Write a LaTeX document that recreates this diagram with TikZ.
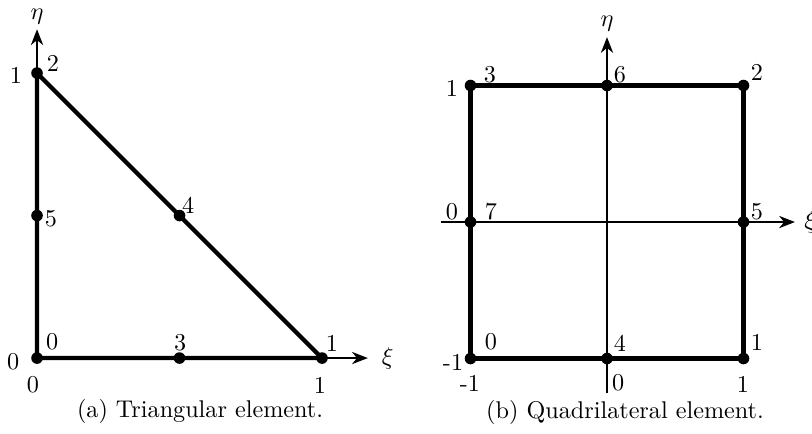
\documentclass[tikz,border=0pt]{standalone}
\usepackage{amsmath, amssymb}
\usepackage{tikz}
\usetikzlibrary{calc, positioning, arrows.meta}

\begin{document}
\begin{tikzpicture}[scale=0.959,
    edge/.style={line width=1.8pt},
    axis/.style={line width=1pt, -{Stealth[length=6.5pt, width=5pt, inset=2pt]}},
    dot/.style={circle, fill, inner sep=0pt, minimum size=4.8pt},
    lbl/.style={inner sep=0pt}]
  \useasboundingbox (0,0) rectangle (12.303,6.561);

  % (a) triangular element
  \begin{scope}[shift={(0.561,1.136)}, scale=4.318]
    \node[dot] (t0) at (0,0) {};
    \node[dot] (t1) at (1,0) {};
    \node[dot] (t2) at (0,1) {};
    \node[dot] (t3) at (0.5,0) {};
    \node[dot] (t4) at (0.5,0.5) {};
    \node[dot] (t5) at (0,0.5) {};
    \coordinate (txi) at (1.161,0);
    \coordinate (teta) at (0,1.154);

    \draw[axis] (t0.center) -- (txi) node[right=2pt] {$\xi$};
    \draw[axis] (t0.center) -- (teta) node[above, inner sep=1.5pt] {$\eta$};
    \draw[edge] (t0.center) -- (t1.center) -- (t2.center) -- cycle;

    \node[lbl] at (0.053,0.056) {0};
    \node[lbl] at (1.035,0.053) {1};
    \node[lbl] at (0.056,1.035) {2};
    \node[lbl] at (0.502,0.053) {3};
    \node[lbl] at (0.530,0.537) {4};
    \node[lbl] at (0.049,0.490) {5};
    % axis values
    \node[lbl] at (-0.084,-0.014) {0};
    \node[lbl] at (-0.014,-0.095) {0};
    \node[lbl] at (0.993,-0.095) {1};
    \node[lbl] at (-0.074,0.990) {1};

    \node (capa) at (0.572,-0.189) {(a) Triangular element.};
  \end{scope}

  % (b) quadrilateral element
  \begin{scope}[shift={(9.197,3.197)}, scale=2.068]
    \node[dot] (q0) at (-1,-1) {};
    \node[dot] (q1) at (1,-1) {};
    \node[dot] (q2) at (1,1) {};
    \node[dot] (q3) at (-1,1) {};
    \node[dot] (q4) at (0,-1) {};
    \node[dot] (q5) at (1,0) {};
    \node[dot] (q6) at (0,1) {};
    \node[dot] (q7) at (-1,0) {};
    \coordinate (qxs) at (-1.216,0);
    \coordinate (qxi) at (1.377,0);
    \coordinate (qes) at (0,-1.253);
    \coordinate (qeta) at (0,1.355);

    \draw[axis] (qxs) -- (qxi) node[right] {$\xi$};
    \draw[axis] (qes) -- (qeta) node[above, inner sep=2pt] {$\eta$};
    \draw[edge] (q0.center) -- (q1.center) -- (q2.center) -- (q3.center) -- cycle;

    \node[lbl] at (-0.850,-0.879) {0};
    \node[lbl] at (1.099,-0.879) {1};
    \node[lbl] at (1.099,1.099) {2};
    \node[lbl] at (-0.857,1.077) {3};
    \node[lbl] at (0.095,-0.886) {4};
    \node[lbl] at (1.099,0.073) {5};
    \node[lbl] at (0.095,1.077) {6};
    \node[lbl] at (-0.850,0.073) {7};
    % axis values
    \node[lbl] at (-1.136,0.982) {1};
    \node[lbl] at (-1.136,0.073) {0};
    \node[lbl] at (-1.128,-1.026) {-1};
    \node[lbl] at (-1.004,-1.180) {-1};
    \node[lbl] at (0.081,-1.180) {0};
    \node[lbl] at (0.996,-1.187) {1};

    \node (capb) at (0.132,-1.392) {(b) Quadrilateral element.};
  \end{scope}
\end{tikzpicture}
\end{document}
